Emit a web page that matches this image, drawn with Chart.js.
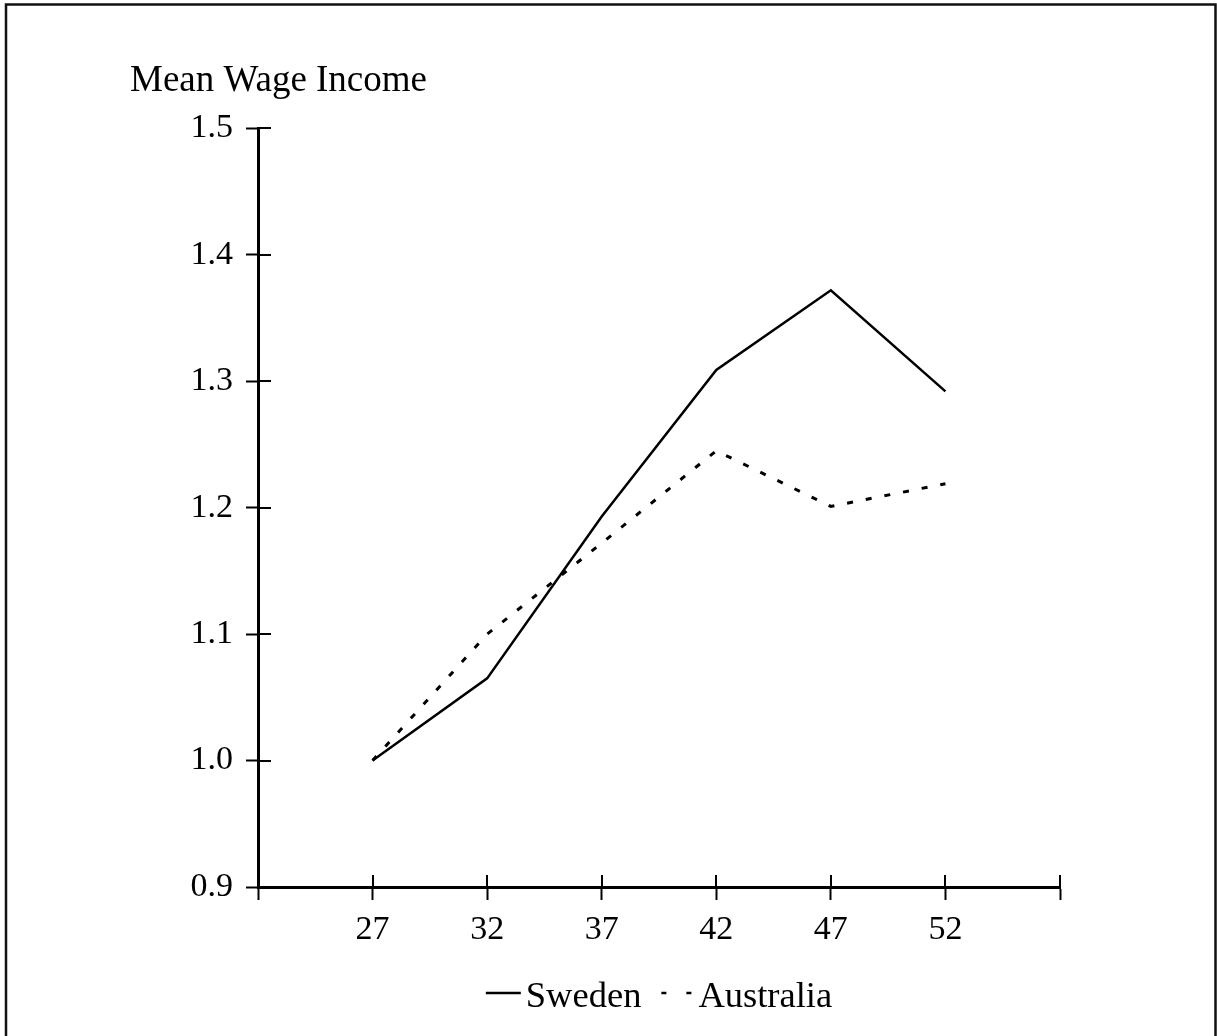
<!DOCTYPE html>
<html>
<head>
<meta charset="utf-8">
<script src="https://cdn.jsdelivr.net/npm/chart.js@4.4.1/dist/chart.umd.min.js"></script>
<style>
  html, body { margin: 0; padding: 0; background: #fff; }
  #wrap { position: relative; width: 1217px; height: 1036px; }
</style>
</head>
<body>
<div id="wrap"><canvas id="chart" width="1217" height="1036"></canvas></div>
<script>
// ---- data ----
const ages = [27, 32, 37, 42, 47, 52];
const sweden = [1.0, 1.065, 1.193, 1.309, 1.372, 1.292];
const australia = [1.0, 1.1, 1.172, 1.245, 1.201, 1.219];
const seriesNames = ['Sweden', 'Australia'];
const yTitle = 'Mean Wage Income';
const xRange = [22, 57];   // axis runs one step past the data on both sides
const yRange = [0.9, 1.5];

const FONT = '"Liberation Serif", "Times New Roman", serif';

function toPoints(ys) { return ages.map((a, i) => ({ x: a, y: ys[i] })); }

// frame round the figure (open at the bottom, as in the scan)
const framePlugin = {
  id: 'frame',
  beforeDraw(chart) {
    const ctx = chart.ctx;
    ctx.save();
    ctx.fillStyle = '#fff';
    ctx.fillRect(0, 0, chart.width, chart.height);
    ctx.strokeStyle = '#111';
    ctx.lineWidth = 2.5;
    ctx.beginPath();
    ctx.moveTo(6, chart.height);
    ctx.lineTo(6, 4.5);
    ctx.lineTo(1215.5, 4.5);
    ctx.lineTo(1215.5, chart.height);
    ctx.stroke();
    ctx.restore();
  }
};

// tick marks cross the axis: Chart.js draws the outer half, this draws the inner half
const innerTicks = {
  id: 'innerTicks',
  afterDraw(chart) {
    const { ctx, chartArea: ca, scales } = chart;
    ctx.save();
    ctx.strokeStyle = '#000';
    ctx.lineWidth = 2;
    ctx.beginPath();
    scales.x.ticks.forEach(t => {
      const px = Math.round(scales.x.getPixelForValue(t.value));
      ctx.moveTo(px, ca.bottom);
      ctx.lineTo(px, ca.bottom - 12);
    });
    scales.y.ticks.forEach(t => {
      const py = Math.round(scales.y.getPixelForValue(t.value));
      ctx.moveTo(ca.left, py);
      ctx.lineTo(ca.left + 13, py);
    });
    ctx.stroke();
    ctx.restore();
  }
};

// legend: line sample + label, centred under the plot
const lineLegend = {
  id: 'lineLegend',
  afterDraw(chart) {
    const { ctx, chartArea: ca } = chart;
    ctx.save();
    ctx.font = '36.5px ' + FONT;
    ctx.fillStyle = '#000';
    ctx.strokeStyle = '#000';
    ctx.textBaseline = 'alphabetic';
    const sampleW = 35, gapText = 5, gapItem = 17;
    const items = chart.data.datasets.map(ds => ({
      label: ds.label, dash: ds.borderDash || [], w: ctx.measureText(ds.label).width
    }));
    const total = items.reduce((s, it) => s + sampleW + gapText + it.w, 0) + gapItem * (items.length - 1);
    let x = (ca.left + ca.right) / 2 - total / 2;
    const yLine = ca.bottom + 106, yText = ca.bottom + 120;
    items.forEach(it => {
      ctx.lineWidth = 2.5;
      ctx.setLineDash(it.dash.length ? [5, 20] : []);
      ctx.beginPath();
      ctx.moveTo(x + (it.dash.length ? 3 : 0), yLine);
      ctx.lineTo(x + sampleW, yLine);
      ctx.stroke();
      ctx.setLineDash([]);
      x += sampleW + gapText;
      ctx.fillText(it.label, x, yText);
      x += it.w + gapItem;
    });
    ctx.restore();
  }
};

new Chart(document.getElementById('chart'), {
  type: 'line',
  data: {
    datasets: [
      { label: seriesNames[0], data: toPoints(sweden), borderColor: '#000', borderWidth: 2.5, pointRadius: 0, tension: 0 },
      { label: seriesNames[1], data: toPoints(australia), borderColor: '#000', borderWidth: 3, borderDash: [6, 13], pointRadius: 0, tension: 0 }
    ]
  },
  options: {
    responsive: false,
    animation: false,
    devicePixelRatio: 1,
    layout: { padding: { left: 130, top: 59, right: 157, bottom: 89 } },
    plugins: {
      legend: { display: false },
      tooltip: { enabled: false },
      title: {
        display: true, text: yTitle, align: 'start', color: '#000',
        font: { family: FONT, size: 37, weight: 'normal' },
        padding: { top: 0, bottom: 25 }
      }
    },
    scales: {
      x: {
        type: 'linear', min: xRange[0], max: xRange[1],
        afterFit(s) { s.height = 60; },
        grid: { drawOnChartArea: false, tickLength: 13, tickWidth: 2, tickColor: '#000' },
        border: { color: '#000', width: 3 },
        ticks: {
          stepSize: 5, color: '#000', padding: 10, maxRotation: 0, autoSkip: false,
          font: { family: FONT, size: 34 },
          callback: v => (ages.includes(v) ? String(v) : '')
        }
      },
      y: {
        min: yRange[0], max: yRange[1],
        afterFit(s) { s.width = 128; },
        grid: { drawOnChartArea: false, tickLength: 12, tickWidth: 2, tickColor: '#000' },
        border: { color: '#000', width: 3 },
        ticks: {
          stepSize: 0.1, color: '#000', padding: 13,
          font: { family: FONT, size: 34 },
          callback: v => Number(v).toFixed(1)
        }
      }
    }
  },
  plugins: [framePlugin, innerTicks, lineLegend]
});
</script>
</body>
</html>
